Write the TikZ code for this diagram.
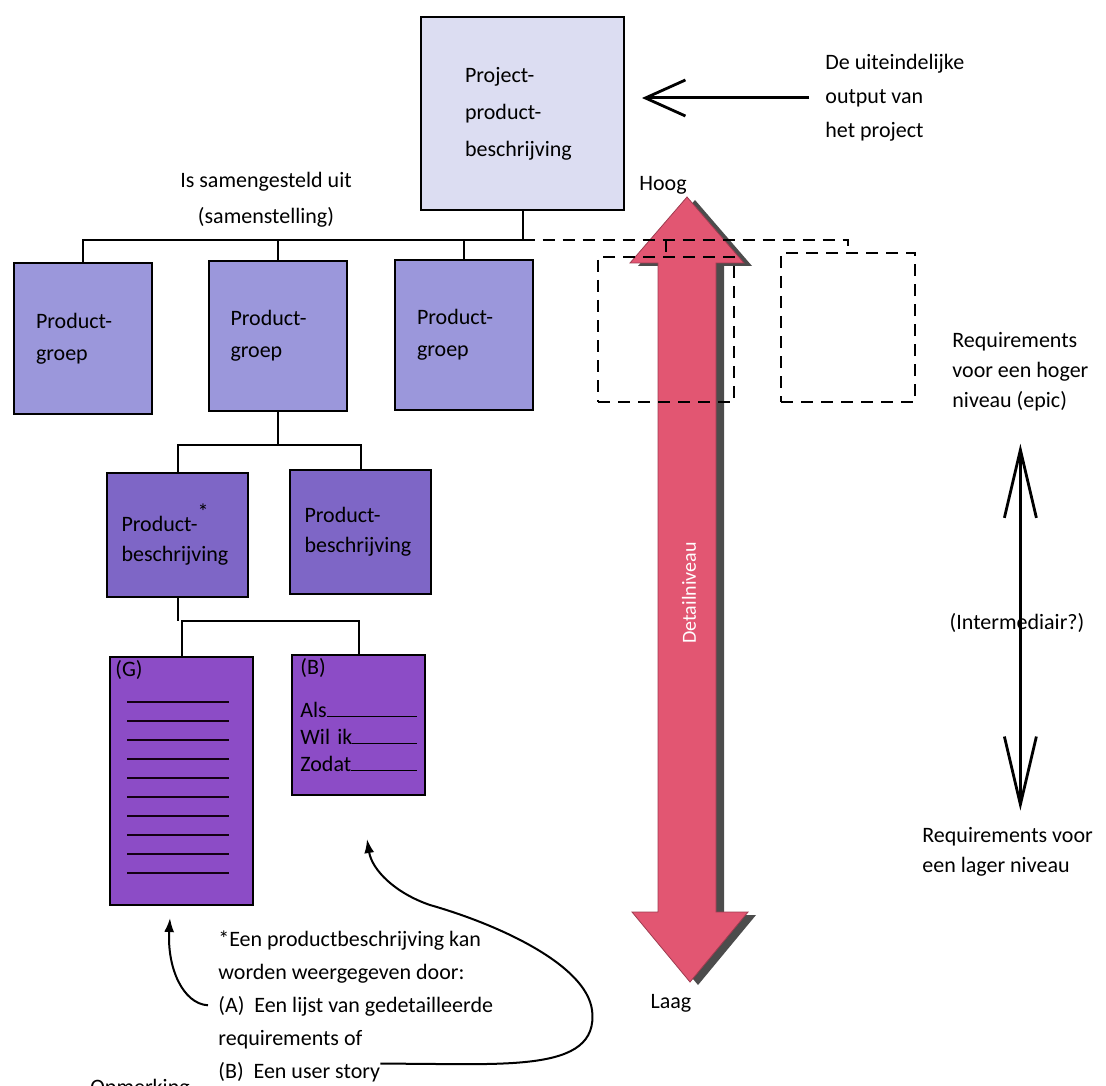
\documentclass[tikz,border=0pt]{standalone}
\usepackage{fontspec}
\setmainfont{Carlito}
\usetikzlibrary{arrows.meta,positioning}

\definecolor{projectkleur}{RGB}{220,221,242}
\definecolor{groepkleur}{RGB}{155,151,219}
\definecolor{beschrkleur}{RGB}{126,102,198}
\definecolor{reqkleur}{RGB}{140,76,198}
\definecolor{detailkleur}{RGB}{226,86,114}

% invulregel die tot de rechterkant doorloopt
\newcommand\invulregel{\leaders\hrule height 0.8pt\hskip 0pt plus 1filll\null}

\tikzset{
  blok/.style={draw, line width=1pt, align=left, inner ysep=0pt},
  projectblok/.style={blok, fill=projectkleur, minimum height=96.5pt, text width=57.5pt, inner xsep=22pt, font=\fontsize{11}{18.5}\selectfont},
  groepblok/.style={blok, fill=groepkleur, minimum height=75pt, text width=47pt, inner xsep=11pt, font=\fontsize{11}{16}\selectfont},
  beschrblok/.style={blok, fill=beschrkleur, minimum height=62pt, text width=56pt, inner xsep=7.25pt, font=\fontsize{11}{15}\selectfont},
  reqblok/.style={draw, line width=1pt, fill=reqkleur},
  leegblok/.style={draw, line width=0.9pt, dash pattern=on 6pt off 4pt},
  lijn/.style={line width=1pt},
  leeglijn/.style={line width=0.9pt, dash pattern=on 6pt off 4pt},
  tekst/.style={inner sep=0pt, align=left},
  regel/.style={line width=1.4pt, black!85!violet},
  uitvoerpijl/.style={line width=1.5pt, -{Straight Barb[length=20pt,width=18pt,line width=1.4pt]}},
  dubbelpijl/.style={line width=1.5pt, {Straight Barb[length=34pt,width=16pt,line width=1.4pt]}-{Straight Barb[length=34pt,width=16pt,line width=1.4pt]}},
  verwijzing/.style={line width=1pt, -{Latex[length=7pt,width=5pt]}}
}

\begin{document}
\begin{tikzpicture}[x=0.5pt, y=-0.5pt, font=\fontsize{11}{15}\selectfont]
  \useasboundingbox (0,0) rectangle (1106,1085);

  % Detailniveau-pijl (schaduw en vulling)
  \fill[black!70, xshift=4pt, yshift=-1.5pt] (687,197) -- (744,263) -- (716,263) -- (716,912) -- (748,912)
    -- (690,982) -- (632,912) -- (658,912) -- (658,263) -- (630,263) -- cycle;
  \filldraw[fill=detailkleur, draw=detailkleur!70!black, line width=0.4pt] (687,197) -- (744,263) -- (716,263)
    -- (716,912) -- (748,912) -- (690,982) -- (632,912) -- (658,912) -- (658,263) -- (630,263) -- cycle;
  \node[rotate=90, text=white, font=\fontsize{10}{12}\selectfont] (detail) at (689,593) {Detailniveau};
  \node (hoog) at (663,185) {Hoog};
  \node (laag) at (671,1003) {Laag};

  % Boom van producten
  \node[projectblok] (projectproduct) at (522.5,113.5) {Project-\\product-\\beschrijving};
  \node[tekst, align=center, font=\fontsize{11}{18}\selectfont] (samenstelling) at (266,200) {Is samengesteld uit\\(samenstelling)};

  \node[groepblok] (groep1) at (83,338.5) {Product-\\groep};
  \node[groepblok] (groep2) at (277.5,336) {Product-\\groep};
  \node[groepblok] (groep3) at (464,335) {Product-\\groep};
  \node[leegblok, minimum width=68pt, minimum height=72.5pt] (extra1) at (666,329.5) {};
  \node[leegblok, minimum width=67pt, minimum height=74.5pt] (extra2) at (848,327.5) {};

  \node[beschrblok] (beschr1) at (177.5,534.5) {Product-\raisebox{1.1ex}{*}\\beschrijving};
  \node[beschrblok] (beschr2) at (360.5,531.5) {Product-\\beschrijving};

  \node[reqblok, minimum width=71.5pt, minimum height=124pt] (lijst) at (181.5,781) {};
  \node[reqblok, minimum width=66.5pt, minimum height=70pt] (story) at (358.5,725) {};

  % Lijst van gedetailleerde requirements
  \node[tekst, anchor=north west] (g) at ([shift={(6,4)}]lijst.north west) {(G)};
  \foreach \y in {46,65,...,217}
    \draw[regel] ([shift={(18,\y)}]lijst.north west) -- ++(102,0);

  % User story
  \node[tekst, anchor=north west, text width=58.5pt, font=\fontsize{11}{13.5}\selectfont] (invul)
    at ([shift={(9,4)}]story.north west) {(B)\\[8pt]Als\invulregel\\Wil ik\invulregel\\Zodat\invulregel};

  % Verbindingen
  \coordinate (splits) at (524,240);
  \coordinate (splits2) at (0,445);
  \coordinate (splits3) at (0,621);
  \draw[lijn] (projectproduct.south) -- (projectproduct.south |- splits) -| (groep1.north);
  \draw[lijn] (groep2.north) -- (groep2.north |- splits);
  \draw[lijn] (groep3.north) -- (groep3.north |- splits);
  \draw[leeglijn] (projectproduct.south |- splits) -| (extra2.north);
  \draw[leeglijn] (extra1.north |- splits) -- (extra1.north);
  \draw[lijn] (groep2.south) -- (groep2.south |- splits2);
  \draw[lijn] (beschr1.north) |- (beschr2.north |- splits2) -- (beschr2.north);
  \draw[lijn] (beschr1.south) -- (beschr1.south |- splits3);
  \draw[lijn] (lijst.north) |- (story.north |- splits3) -- (story.north);

  % Uitvoer van het project
  \node[tekst, anchor=west, font=\fontsize{11}{17}\selectfont] (uitvoer) at (825,98) {De uiteindelijke\\output van\\het project};
  \draw[uitvoerpijl, shorten <=8pt, shorten >=8.5pt] (uitvoer.west) -- (uitvoer.west -| projectproduct.east);

  % Niveaus van requirements
  \node[tekst, anchor=west] (hoger) at (952,372) {Requirements\\voor een hoger\\niveau (epic)};
  \node[tekst, anchor=west] (lager) at (922,851.5) {Requirements voor\\een lager niveau};
  \node (tussen) at (1017,623) {(Intermediair?)};
  \draw[dubbelpijl] ([yshift=-16pt]hoger.south) -- ([yshift=8pt]lager.north -| hoger.south);

  % Toelichting onderaan
  \node[tekst, anchor=base west] (regel1) at (218,946) {*Een productbeschrijving kan};
  \node[tekst, anchor=base west] (regel2) at (218,979) {worden weergegeven door:};
  \node[tekst, anchor=base west] (optieA) at (218,1012) {(A)\ \ Een lijst van gedetailleerde};
  \node[tekst, anchor=base west] (regel4) at (218,1045) {requirements of};
  \node[tekst, anchor=base west] (optieB) at (218,1078) {(B)\ \ Een user story};
  \node[tekst, anchor=base west] (opmerking) at (90,1094) {Opmerking};

  \draw[verwijzing, shorten <=5pt] (optieA.west) .. controls +(-35,-2) and +(-3,50) .. ([shift={(-11.5,12)}]lijst.south);
  \draw[verwijzing] ([yshift=4pt]optieB.east) .. controls (500,1063) and (600,1075) .. (592,1010)
    .. controls (586,965) and (500,925) .. (430,905)
    .. controls (395,893) and (372,870) .. ([shift={(8.5,43)}]story.south);
\end{tikzpicture}
\end{document}
